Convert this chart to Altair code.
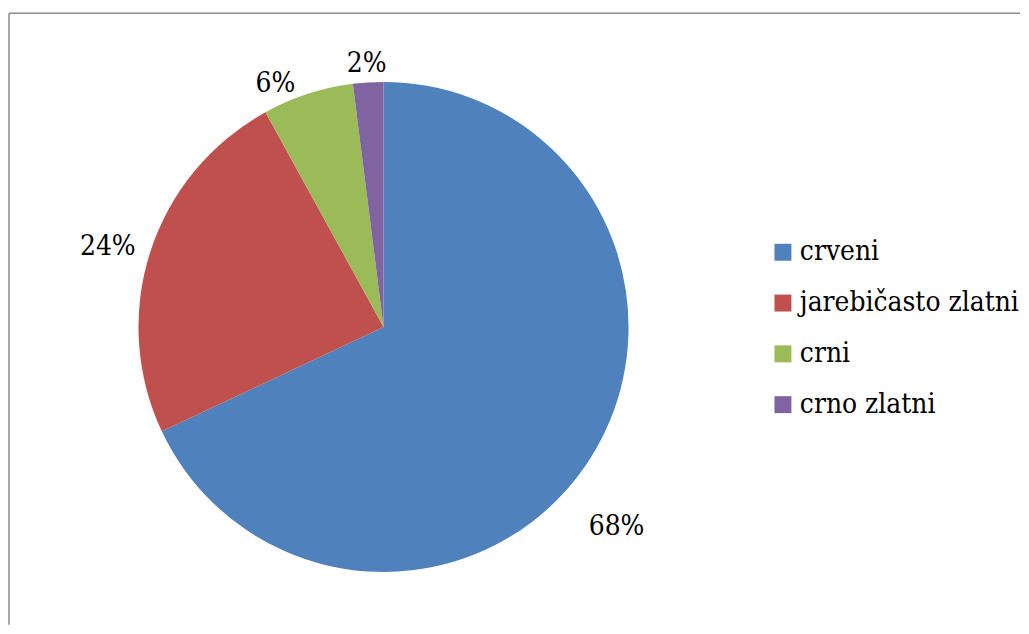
import math
import altair as alt
import pandas as pd

categories = ["crveni", "jarebičasto zlatni", "crni", "crno zlatni"]
values = [68, 24, 6, 2]
labels = ["68%", "24%", "6%", "2%"]
colors = ["#4F81BD", "#C0504D", "#9BBB59", "#8064A2"]

df = pd.DataFrame({"category": categories, "value": values, "label": labels,
                   "order": list(range(len(categories)))})
TOTAL = sum(values)

CX, CY, R = 376, 315, 246
W, H = 1005, 600
FONT = "DejaVu Serif Condensed"

base = alt.Chart(df)

color = alt.Color(
    "category:N",
    scale=alt.Scale(domain=categories, range=colors),
    sort=categories,
    legend=alt.Legend(
        title=None, orient="none", legendX=763, legendY=226,
        labelFont=FONT, labelFontSize=28, labelColor="black", labelLimit=400,
        symbolType="square", symbolSize=289, symbolStrokeWidth=0,
        rowPadding=23, labelOffset=3, padding=0,
    ),
)

pie = base.mark_arc(outerRadius=R).encode(
    theta=alt.Theta("value:Q", stack=True, scale=alt.Scale(domain=[0, TOTAL], range=[0, 2 * math.pi])),
    color=color,
    order=alt.Order("order:Q"),
    x=alt.value(CX), y=alt.value(CY),
)

lab_base = base.transform_window(
    cum="sum(value)", sort=[alt.SortField("order")]
).transform_calculate(mid="datum.cum - datum.value / 2")

offsets = {"68%": (6, 56), "24%": (-20, 3), "6%": (-25, 13), "2%": (0, 5)}
text_layers = []
for lbl in labels:
    dx, dy = offsets[lbl]
    t = lab_base.transform_filter(alt.datum.label == lbl).mark_text(
        radius=270, font=FONT, fontSize=28, color="black",
        align="center", baseline="middle", dx=dx, dy=dy,
    ).encode(
        theta=alt.Theta("mid:Q", scale=alt.Scale(domain=[0, TOTAL], range=[0, 2 * math.pi])),
        text="label:N",
        x=alt.value(CX), y=alt.value(CY),
    )
    text_layers.append(t)

border_df = pd.DataFrame({"a": [0]})
vrule = alt.Chart(border_df).mark_rule(color="#8C8C8C", strokeWidth=1.5).encode(
    x=alt.value(0), y=alt.value(0), y2=alt.value(H + 14))
hrule = alt.Chart(border_df).mark_rule(color="#8C8C8C", strokeWidth=1.5).encode(
    x=alt.value(0), x2=alt.value(W + 10), y=alt.value(0))

chart = alt.layer(pie, *text_layers, vrule, hrule).properties(
    width=W, height=H,
    padding={"left": 0, "top": 3, "right": 0, "bottom": 0},
).configure_view(stroke=None)

chart.save("out.html", embed_options={"renderer": "svg", "actions": False})
